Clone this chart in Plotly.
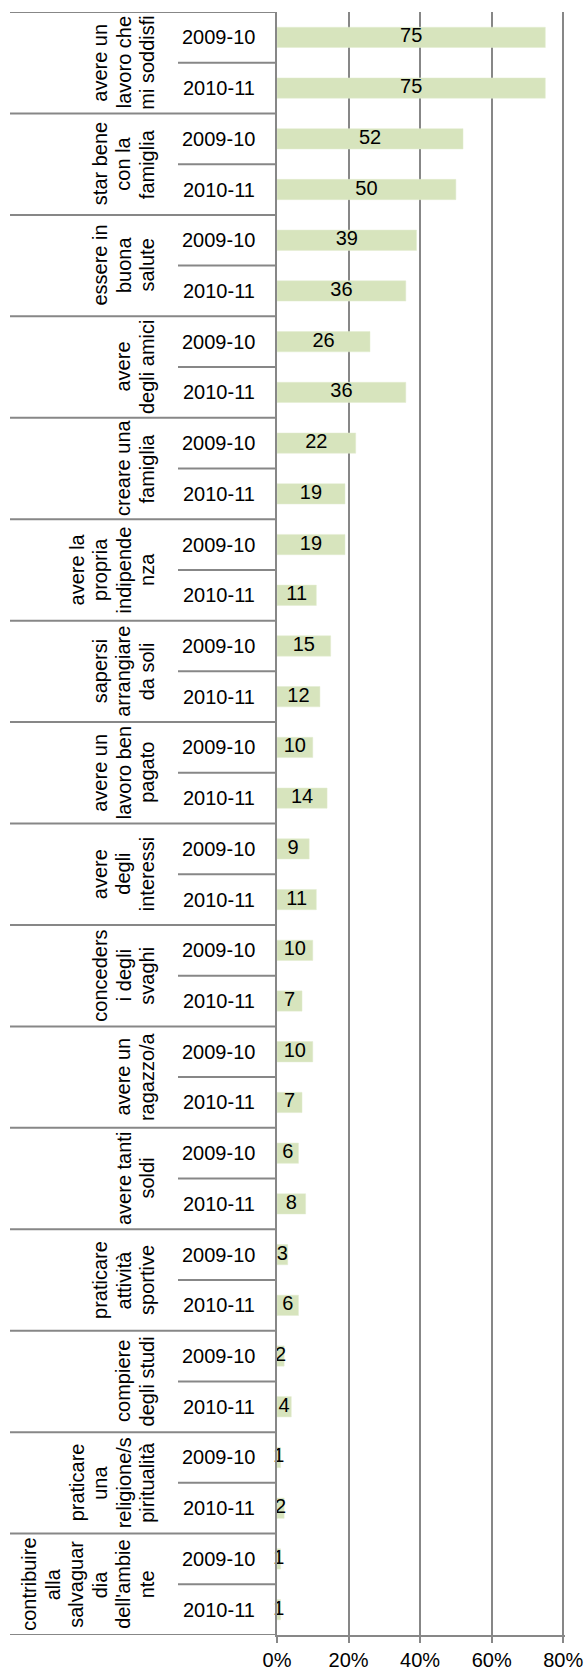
import plotly.graph_objects as go

# Survey answers: share of respondents (%) for each goal, two school years
goals = [
    "avere un<br>lavoro che<br>mi soddisfi",
    "star bene<br>con la<br>famiglia",
    "essere in<br>buona<br>salute",
    "avere<br>degli amici",
    "creare una<br>famiglia",
    "avere la<br>propria<br>indipende<br>nza",
    "sapersi<br>arrangiare<br>da soli",
    "avere un<br>lavoro ben<br>pagato",
    "avere<br>degli<br>interessi",
    "conceders<br>i degli<br>svaghi",
    "avere un<br>ragazzo/a",
    "avere tanti<br>soldi",
    "praticare<br>attività<br>sportive",
    "compiere<br>degli studi",
    "praticare<br>una<br>religione/s<br>piritualità",
    "contribuire<br>alla<br>salvaguar<br>dia<br>dell'ambie<br>nte",
]
years = ["2009-10", "2010-11"]
values_2009_10 = [75, 52, 39, 26, 22, 19, 15, 10, 9, 10, 10, 6, 3, 2, 1, 1]
values_2010_11 = [75, 50, 36, 36, 19, 11, 12, 14, 11, 7, 7, 8, 6, 4, 2, 1]
x_ticks = [0, 20, 40, 60, 80]
x_tick_labels = ["0%", "20%", "40%", "60%", "80%"]

# Flatten into one row per (goal, year), top to bottom
rows, vals, year_of_row = [], [], []
for i in range(len(goals)):
    for y_lbl, series in zip(years, (values_2009_10, values_2010_11)):
        rows.append(len(rows))
        vals.append(series[i])
        year_of_row.append(y_lbl)

W, H = 587, 1671
ML, MR, MT, MB = 277, 22, 12, 36
plot_w = W - ML - MR
X_MAX = 80.5  # a little room so the 80% gridline is drawn
LINE = "#878787"
FONT = "Liberation Sans, Arial, sans-serif"
GROUP_LINE_STEP = 23.5   # spacing of wrapped lines in the rotated goal labels
GROUP_LAST_LINE_X = 147  # pixel x of the last wrapped line


def px_to_paper_x(px):
    return (px - ML) / plot_w


fig = go.Figure()
fig.add_trace(go.Bar(
    x=vals, y=rows, orientation="h", width=0.4,
    marker=dict(color="#D7E4BD", line=dict(color="#E3ECD0", width=0.5)),
    hoverinfo="skip", showlegend=False,
))
# value labels centred on each bar
fig.add_trace(go.Scatter(
    x=[v / 2 for v in vals], y=rows, mode="text",
    text=[str(v) for v in vals],
    textfont=dict(family=FONT, size=20, color="black"),
    textposition="middle center", cliponaxis=False,
    hoverinfo="skip", showlegend=False,
))

annotations = []
shapes = []
for r, y_lbl in zip(rows, year_of_row):
    annotations.append(dict(
        x=px_to_paper_x(257), xref="paper", y=r, yref="y",
        text=y_lbl, showarrow=False, xanchor="right", yanchor="middle",
        font=dict(family=FONT, size=20, color="black"),
    ))
for g, name in enumerate(goals):
    lines = name.split("<br>")
    n = len(lines)
    for k, line in enumerate(lines):
        annotations.append(dict(
            x=px_to_paper_x(GROUP_LAST_LINE_X - (n - 1 - k) * GROUP_LINE_STEP),
            xref="paper", y=2 * g + 0.5, yref="y",
            text=line, showarrow=False, textangle=-90,
            xanchor="center", yanchor="middle",
            font=dict(family=FONT, size=20, color="black"),
        ))
    # separator between the two years of a goal
    shapes.append(dict(
        type="line", xref="paper", yref="y",
        x0=px_to_paper_x(178), x1=0, y0=2 * g + 0.5, y1=2 * g + 0.5,
        line=dict(color=LINE, width=2),
    ))
# separators between goals (incl. top and bottom edges)
for g in range(len(goals) + 1):
    yb = 2 * g - 0.5
    shapes.append(dict(
        type="line", xref="paper", yref="y",
        x0=px_to_paper_x(10), x1=0, y0=yb, y1=yb,
        line=dict(color=LINE, width=2),
    ))

fig.update_layout(
    width=W, height=H,
    margin=dict(l=ML, r=MR, t=MT, b=MB, pad=0, autoexpand=False),
    plot_bgcolor="white", paper_bgcolor="white",
    font=dict(family=FONT, size=20, color="black"),
    annotations=annotations, shapes=shapes,
    xaxis=dict(
        range=[0, X_MAX], tickmode="array",
        tickvals=x_ticks, ticktext=x_tick_labels, automargin=False,
        showgrid=True, gridcolor=LINE, gridwidth=2,
        zeroline=False, showline=True, linecolor=LINE, linewidth=2,
        ticks="outside", ticklen=6, tickcolor=LINE, tickwidth=2,
        tickfont=dict(family=FONT, size=20, color="black"),
        fixedrange=True,
    ),
    yaxis=dict(
        range=[len(rows) - 0.5, -0.5], showticklabels=False,
        showgrid=False, zeroline=False, automargin=False,
        showline=True, linecolor=LINE, linewidth=2, ticks="",
        fixedrange=True,
    ),
)

fig.write_html("out.html")
